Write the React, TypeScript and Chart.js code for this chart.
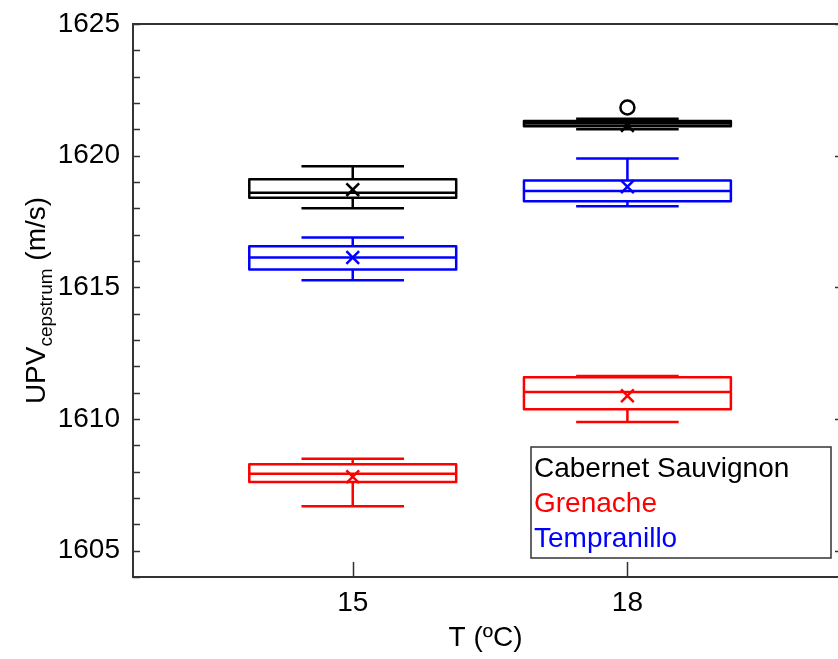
import React, { useEffect, useRef } from "react";
import { Chart, registerables } from "chart.js";

Chart.register(...registerables);

// ---------- data ----------
const temperatures = [15, 18];
const yTickValues = [1605, 1610, 1615, 1620, 1625];
const xTickValues = [15, 18];

const seriesNames = ["Cabernet Sauvignon", "Grenache", "Tempranillo"];
const seriesColors = ["#000000", "#ff0000", "#0000ff"];

const cabernetWhiskerLow = [1618.0, 1621.0];
const cabernetQ1 = [1618.4, 1621.12];
const cabernetMedian = [1618.59, 1621.22];
const cabernetQ3 = [1619.1, 1621.32];
const cabernetWhiskerHigh = [1619.6, 1621.4];
const cabernetMean = [1618.71, 1621.15];
const cabernetOutliers: number[][] = [[], [1621.83]];

const grenacheWhiskerLow = [1606.69, 1609.89];
const grenacheQ1 = [1607.61, 1610.37];
const grenacheMedian = [1607.92, 1611.03];
const grenacheQ3 = [1608.28, 1611.59];
const grenacheWhiskerHigh = [1608.49, 1611.63];
const grenacheMean = [1607.81, 1610.88];
const grenacheOutliers: number[][] = [[], []];

const tempranilloWhiskerLow = [1615.27, 1618.08];
const tempranilloQ1 = [1615.68, 1618.27];
const tempranilloMedian = [1616.13, 1618.66];
const tempranilloQ3 = [1616.56, 1619.06];
const tempranilloWhiskerHigh = [1616.89, 1619.89];
const tempranilloMean = [1616.13, 1618.82];
const tempranilloOutliers: number[][] = [[], []];

const series = [
  { name: seriesNames[0], color: seriesColors[0], lo: cabernetWhiskerLow, q1: cabernetQ1, med: cabernetMedian, q3: cabernetQ3, hi: cabernetWhiskerHigh, mean: cabernetMean, out: cabernetOutliers },
  { name: seriesNames[1], color: seriesColors[1], lo: grenacheWhiskerLow, q1: grenacheQ1, med: grenacheMedian, q3: grenacheQ3, hi: grenacheWhiskerHigh, mean: grenacheMean, out: grenacheOutliers },
  { name: seriesNames[2], color: seriesColors[2], lo: tempranilloWhiskerLow, q1: tempranilloQ1, med: tempranilloMedian, q3: tempranilloQ3, hi: tempranilloWhiskerHigh, mean: tempranilloMean, out: tempranilloOutliers },
];

// ---------- styles ----------
const FONT = "'Liberation Sans', Arial, Helvetica, sans-serif";
const BOX_HALF = 1.13;
const CAP_HALF = 0.56;
const AXIS_COLOR = "#333333";
const TEXT_SIZE = 28;

const boxPlugin = {
  id: "boxPlots",
  beforeDatasetsDraw(chart: any) {
    const { ctx, scales } = chart;
    const x = scales.x;
    const y = scales.y;
    ctx.save();
    ctx.lineJoin = "round";
    series.forEach((s) => {
      ctx.strokeStyle = s.color;
      ctx.lineWidth = 2.5;
      temperatures.forEach((t, i) => {
        const xc = x.getPixelForValue(t);
        const xl = x.getPixelForValue(t - BOX_HALF);
        const xr = x.getPixelForValue(t + BOX_HALF);
        const cl = x.getPixelForValue(t - CAP_HALF);
        const cr = x.getPixelForValue(t + CAP_HALF);
        const yLo = y.getPixelForValue(s.lo[i]);
        const yQ1 = y.getPixelForValue(s.q1[i]);
        const yMed = y.getPixelForValue(s.med[i]);
        const yQ3 = y.getPixelForValue(s.q3[i]);
        const yHi = y.getPixelForValue(s.hi[i]);
        ctx.beginPath();
        ctx.moveTo(xc, yQ3);
        ctx.lineTo(xc, yHi);
        ctx.moveTo(cl, yHi);
        ctx.lineTo(cr, yHi);
        ctx.moveTo(xc, yQ1);
        ctx.lineTo(xc, yLo);
        ctx.moveTo(cl, yLo);
        ctx.lineTo(cr, yLo);
        ctx.stroke();
        ctx.beginPath();
        ctx.rect(xl, yQ3, xr - xl, yQ1 - yQ3);
        ctx.moveTo(xl, yMed);
        ctx.lineTo(xr, yMed);
        ctx.stroke();
      });
    });
    ctx.restore();
  },
};

const framePlugin = {
  id: "frame",
  afterDraw(chart: any) {
    const { ctx, chartArea, scales } = chart;
    const x = scales.x;
    const y = scales.y;
    ctx.save();
    ctx.strokeStyle = AXIS_COLOR;
    ctx.lineWidth = 2;
    ctx.beginPath();
    ctx.moveTo(chartArea.left, chartArea.top);
    ctx.lineTo(chartArea.right, chartArea.top);
    ctx.stroke();
    ctx.lineWidth = 1.5;
    ctx.beginPath();
    for (let v = Math.ceil(y.min); v <= y.max; v += 1) {
      const py = Math.round(y.getPixelForValue(v)) + 0.5;
      ctx.moveTo(chartArea.left, py);
      ctx.lineTo(chartArea.left + 7, py);
    }
    yTickValues.forEach((v) => {
      const py = Math.round(y.getPixelForValue(v)) + 0.5;
      ctx.moveTo(chartArea.right - 3, py);
      ctx.lineTo(chartArea.right, py);
    });
    xTickValues.forEach((v) => {
      const px = Math.round(x.getPixelForValue(v)) + 0.5;
      ctx.moveTo(px, chartArea.bottom);
      ctx.lineTo(px, chartArea.bottom - 15);
    });
    ctx.stroke();

    // y axis title with subscript
    ctx.fillStyle = "#000000";
    ctx.translate(36, (chartArea.top + chartArea.bottom) / 2);
    ctx.rotate(-Math.PI / 2);
    ctx.textBaseline = "alphabetic";
    const bigFont = `${TEXT_SIZE}px ${FONT}`;
    const subFont = `19px ${FONT}`;
    ctx.font = bigFont;
    const w1 = ctx.measureText("UPV").width;
    const w3 = ctx.measureText(" (m/s)").width;
    ctx.font = subFont;
    const w2 = ctx.measureText("cepstrum").width;
    const total = w1 + w2 + w3;
    let cx = -total / 2;
    const base = 9;
    ctx.font = bigFont;
    ctx.fillText("UPV", cx, base);
    cx += w1;
    ctx.font = subFont;
    ctx.fillText("cepstrum", cx, base + 7);
    cx += w2;
    ctx.font = bigFont;
    ctx.fillText(" (m/s)", cx, base);
    ctx.restore();

    // legend box
    ctx.save();
    const lx = 531, ly = 447, lw = 300, lh = 111;
    ctx.fillStyle = "#ffffff";
    ctx.fillRect(lx, ly, lw, lh);
    ctx.strokeStyle = AXIS_COLOR;
    ctx.lineWidth = 1.5;
    ctx.strokeRect(lx, ly, lw, lh);
    ctx.font = `${TEXT_SIZE}px ${FONT}`;
    ctx.textBaseline = "alphabetic";
    ctx.textAlign = "left";
    series.forEach((s, i) => {
      ctx.fillStyle = s.color;
      ctx.fillText(s.name, lx + 3, ly + 30 + i * 35);
    });
    ctx.restore();
  },
};

export default function App() {
  const canvasRef = useRef<HTMLCanvasElement | null>(null);

  useEffect(() => {
    const canvas = canvasRef.current;
    if (!canvas) return;

    const datasets: any[] = [];
    series.forEach((s) => {
      datasets.push({
        type: "scatter",
        label: s.name + " mean",
        data: temperatures.map((t, i) => ({ x: t, y: s.mean[i] })),
        pointStyle: "crossRot",
        pointRadius: 9,
        pointBorderWidth: 2.5,
        borderColor: s.color,
        backgroundColor: s.color,
        showLine: false,
      });
      const outPts: { x: number; y: number }[] = [];
      temperatures.forEach((t, i) => s.out[i].forEach((v) => outPts.push({ x: t, y: v })));
      if (outPts.length) {
        datasets.push({
          type: "scatter",
          label: s.name + " outliers",
          data: outPts,
          pointStyle: "circle",
          pointRadius: 7,
          pointBorderWidth: 2.5,
          borderColor: s.color,
          backgroundColor: "rgba(0,0,0,0)",
          showLine: false,
        });
      }
    });

    const chart = new Chart(canvas, {
      type: "scatter",
      data: { datasets },
      options: {
        responsive: false,
        animation: false,
        devicePixelRatio: 1,
        layout: { autoPadding: false, padding: { top: 24, right: 0, bottom: 0, left: 0 } },
        plugins: {
          legend: { display: false },
          tooltip: { enabled: false },
        },
        scales: {
          x: {
            type: "linear",
            min: 12.6,
            max: 20.3,
            grid: { display: false },
            border: { display: true, color: AXIS_COLOR, width: 2 },
            afterBuildTicks: (s: any) => {
              s.ticks = xTickValues.map((v) => ({ value: v }));
            },
            afterFit: (s: any) => {
              s.height = 82;
              s.paddingLeft = 0;
              s.paddingRight = 0;
            },
            ticks: {
              color: "#000000",
              font: { family: FONT, size: TEXT_SIZE },
              padding: 1,
              maxRotation: 0,
              callback: (v: any) => String(v),
            },
            title: {
              display: true,
              text: "T (ºC)",
              color: "#000000",
              font: { family: FONT, size: TEXT_SIZE },
              padding: { top: 0, bottom: 4 },
            },
          },
          y: {
            type: "linear",
            min: 1604,
            max: 1625,
            grid: { display: false },
            border: { display: true, color: AXIS_COLOR, width: 2 },
            afterBuildTicks: (s: any) => {
              s.ticks = yTickValues.map((v) => ({ value: v }));
            },
            afterFit: (s: any) => {
              s.width = 133;
            },
            ticks: {
              color: "#000000",
              font: { family: FONT, size: TEXT_SIZE },
              padding: 5,
              callback: (v: any) => String(v),
            },
          },
        },
      },
      plugins: [boxPlugin, framePlugin],
    } as any);

    return () => chart.destroy();
  }, []);

  return (
    <div style={{ position: "fixed", left: 0, top: 0, width: 838, height: 659, background: "#ffffff" }}>
      <canvas ref={canvasRef} width={838} height={659} style={{ display: "block" }} />
    </div>
  );
}
